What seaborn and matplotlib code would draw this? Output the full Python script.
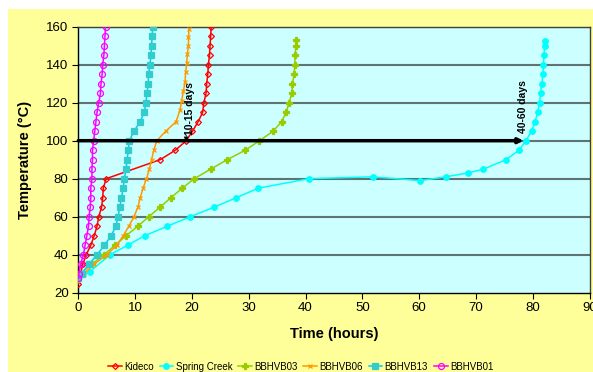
import numpy as np
import pandas as pd
import matplotlib
matplotlib.use("Agg")
import matplotlib.pyplot as plt
import seaborn as sns
from matplotlib.patches import Rectangle

# values (time in hours, temperature in degC)
kideco_t = [0, 0.4, 0.8, 1.4, 2.2, 2.8, 3.3, 3.6, 4.1, 4.3, 4.4, 4.9, 14.4, 17.1, 19.0, 20.1,
            21.1, 21.9, 22.1, 22.5, 22.6, 22.8, 22.9, 23.1, 23.2, 23.3, 23.4]
kideco_T = [24.5, 30, 35, 40, 45, 50, 55, 60, 65, 70, 75, 80, 90, 95, 100, 105,
            110, 115, 120, 125, 130, 135, 140, 145, 150, 155, 160]

spring_t = [0, 2, 5.6, 8.7, 11.7, 15.7, 19.7, 23.9, 27.8, 31.7, 40.6, 51.8, 60.2, 64.7, 68.6,
            71.3, 75.3, 77.6, 78.8, 79.8, 80.4, 80.9, 81.2, 81.4, 81.6, 81.8, 81.9, 82.0, 82.1, 82.1]
spring_T = [27, 31, 40, 45, 50, 55, 60, 65, 70, 75, 80, 81, 79, 81, 83,
            85, 90, 95, 100, 105, 110, 115, 120, 125, 130, 135, 140, 145, 150, 152.5]

b03_t = [0, 0.3, 2.4, 4.5, 6.5, 8.4, 10.5, 12.4, 14.4, 16.3, 18.3, 20.4, 23.3, 26.2, 29.4,
         31.9, 34.3, 35.8, 36.6, 37.1, 37.6, 37.7, 38.0, 38.1, 38.2, 38.3, 38.3]
b03_T = [27, 30, 35, 40, 45, 50, 55, 60, 65, 70, 75, 80, 85, 90, 95,
         100, 105, 110, 115, 120, 125, 130, 135, 140, 145, 150, 153]

b06_t = [0, 1.0, 2.8, 5.0, 6.8, 7.9, 8.9, 9.8, 10.5, 10.9, 11.4, 12.0, 12.5, 12.9, 13.3, 13.8,
         15.4, 17.2, 17.9, 18.2, 18.5, 18.8, 18.9, 19.1, 19.2, 19.4, 19.4, 19.5]
b06_T = [27, 30, 35, 40, 45, 50, 55, 60, 65, 70, 75, 80, 85, 90, 95, 100,
         105, 110, 116, 121, 126, 131, 136, 141, 145.5, 150, 154.5, 159]

b13_t = [0, 0.6, 1.9, 3.3, 4.6, 5.8, 6.6, 7.0, 7.3, 7.6, 7.9, 8.1, 8.4, 8.6, 8.8, 9.0,
         9.8, 10.9, 11.6, 11.9, 12.1, 12.3, 12.4, 12.6, 12.8, 12.9, 13.0, 13.1]
b13_T = [27.5, 30, 35, 40, 45, 50, 55, 60, 65, 70, 75, 80, 85, 90, 95, 100,
         105, 110, 115, 120, 125, 130, 135, 140, 145, 150, 155, 160]

b01_t = [0, 0.1, 0.4, 0.9, 1.2, 1.5, 1.8, 1.9, 2.1, 2.2, 2.2, 2.4, 2.4, 2.5, 2.5, 2.7,
         2.9, 3.1, 3.3, 3.6, 3.9, 4.0, 4.2, 4.3, 4.5, 4.6, 4.7, 4.8]
b01_T = [27.5, 30, 35, 40, 45, 50, 55, 60, 65, 70, 75, 80, 85, 90, 95, 100,
         105, 110, 115, 120, 125, 130, 135, 140, 145, 150, 155, 160]

names = ["Kideco", "Spring Creek", "BBHVB03", "BBHVB06", "BBHVB13", "BBHVB01"]
times = [kideco_t, spring_t, b03_t, b06_t, b13_t, b01_t]
temps = [kideco_T, spring_T, b03_T, b06_T, b13_T, b01_T]

frames = []
for n, t, T in zip(names, times, temps):
    frames.append(pd.DataFrame({"time": t, "temp": T, "site": n}))
df = pd.concat(frames, ignore_index=True)

# line colour, marker, marker face, marker edge, marker size
styles = {
    "Kideco":       ("#FF0000", "D", "none", "#FF0000", 3),
    "Spring Creek": ("#00FFFF", "o", "#00FFFF", "#00FFFF", 4),
    "BBHVB03":      ("#99CC00", "P", "#99CC00", "#99CC00", 4),
    "BBHVB06":      ("#FF9900", "x", "#FF9900", "#FF9900", 3.5),
    "BBHVB13":      ("#00CCFF", "s", "#33CCCC", "#33CCCC", 4.3),
    "BBHVB01":      ("#FF00FF", "o", "none", "#FF00FF", 4.3),
}

plt.rcParams['font.family'] = ['Liberation Sans', 'DejaVu Sans']

fig = plt.figure(figsize=(5.93, 3.72), dpi=100)
fig.patch.set_facecolor("white")
fig.patches.append(Rectangle((8 / 593, 0), 1, 1 - 9 / 372, transform=fig.transFigure,
                             facecolor="#FFFF99", edgecolor="none", zorder=-10))
ax = fig.add_axes([78.3 / 593, 1 - 292.7 / 372, (589.5 - 78.3) / 593, (292.7 - 26.7) / 372])
ax.set_zorder(1)
ax.set_facecolor("#CCFFFF")

for n in names:
    c, m, fc, ec, ms = styles[n]
    sub = df[df.site == n]
    sns.lineplot(data=sub, x="time", y="temp", ax=ax, sort=False, estimator=None,
                 color=c, marker=m, markerfacecolor=fc, markeredgecolor=ec,
                 markersize=ms, markeredgewidth=0.9, linewidth=1.1, label=n, zorder=3)

ax.set_xlim(0, 90)
ax.set_ylim(20, 160)
ax.set_xticks(range(0, 91, 10))
ax.set_yticks(range(20, 161, 20))
ax.grid(False)
for yv in range(40, 161, 20):
    ax.axhline(yv, color="#5F7373", lw=1.5, zorder=1)

for s in ax.spines.values():
    s.set_color("#404040")
    s.set_linewidth(1)
ax.spines["left"].set_color("black")
ax.spines["bottom"].set_color("black")
ax.tick_params(axis="both", labelsize=9.5, length=4, direction="out", color="black", pad=3)

# 100 C line with arrows
ax.annotate("", xy=(78.4, 100), xytext=(0, 100),
            arrowprops=dict(arrowstyle="-|>", color="black", lw=2.5, mutation_scale=7,
                            shrinkA=0, shrinkB=0), zorder=4)
ax.annotate("", xy=(19.0, 99.5), xytext=(19.0, 103),
            arrowprops=dict(arrowstyle="-|>", color="black", lw=0.5, mutation_scale=7,
                            shrinkA=0, shrinkB=0), zorder=5)
ax.text(19.6, 103, "10-15 days", rotation=90, ha="center", va="bottom",
        fontsize=7.5, fontweight="bold", zorder=5)
ax.text(78.3, 104, "40-60 days", rotation=90, ha="center", va="bottom",
        fontsize=7.5, fontweight="bold", zorder=5)

ax.set_xlabel("Time (hours)", fontsize=10.5, fontweight="bold", labelpad=9)
ax.set_ylabel("Temperature (\u00b0C)", fontsize=10.5, fontweight="bold", labelpad=10)

ax.legend(loc="upper center", bbox_to_anchor=(0.435, -0.245), ncol=6, frameon=False,
          fontsize=7, handlelength=1.4, handletextpad=0.25, columnspacing=0.6,
          borderaxespad=0)

fig.savefig("out.png", dpi=100)
